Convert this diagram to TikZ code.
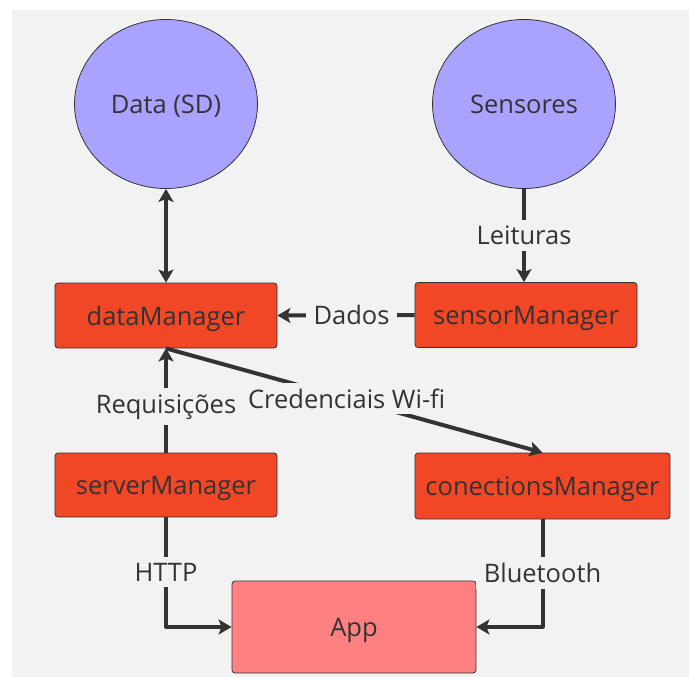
\documentclass[tikz,border=0pt]{standalone}
\usepackage{fontspec}
\setmainfont{Open Sans}
\usetikzlibrary{arrows.meta,shapes.geometric}
\definecolor{bg}{HTML}{F2F2F2}
\definecolor{ink}{HTML}{333333}
\definecolor{violet}{HTML}{A9A3FF}
\definecolor{mred}{HTML}{F24726}
\definecolor{apppink}{HTML}{FF8080}
\newcommand{\dfont}{\fontsize{25.5}{30}\selectfont}
\tikzset{
  boxtext/.style={text=ink, font=\dfont, inner sep=0pt, text height=22pt, text depth=3pt},
  circ/.style={ellipse, draw=ink, line width=0.8pt, fill=violet, minimum width=183pt, minimum height=169pt, boxtext},
  mgr/.style={rectangle, rounded corners=3pt, draw=ink, line width=0.8pt, fill=mred, minimum width=222pt, minimum height=65pt, boxtext},
  appbox/.style={rectangle, rounded corners=3pt, draw=ink, line width=0.8pt, fill=apppink, minimum width=244pt, minimum height=92pt, boxtext},
  conn/.style={draw=ink, line width=4pt, line join=round, -{Stealth[length=13pt,width=15pt,inset=3pt]}},
  lbl/.style={fill=bg, text=ink, font=\dfont, inner xsep=8pt, inner ysep=6pt}
}
\begin{document}
\begin{tikzpicture}[x=1pt,y=-1pt]
\useasboundingbox (0,0) rectangle (689,677);
\fill[bg] (12,10) rectangle (689,677);

\node[circ] (sd) at (166,104) {Data (SD)};
\node[circ] (sens) at (524,104) {Sensores};
\node[mgr] (dm) at (166,315.5) {dataManager};
\node[mgr] (sm) at (526,315) {sensorManager};
\node[mgr, minimum height=64pt] (srv) at (166,485) {serverManager};
\node[mgr, minimum width=255pt, minimum height=66pt] (cm) at (542.5,486) {conectionsManager};
\node[appbox] (app) at (354,627) {App};

\draw[conn, {Stealth[length=13pt,width=15pt,inset=3pt]}-{Stealth[length=13pt,width=15pt,inset=3pt]}] (sd) -- (dm);
\draw[conn] (sens.south) -- node[lbl]{Leituras} (sens.south |- sm.north);
\draw[conn] (sm.west) -- node[lbl, pos=0.46]{Dados} (dm.east);
\draw[conn] (srv.north) -- node[lbl, pos=0.44]{Requisições} (dm.south);
\draw[conn] (dm.south) -- node[lbl, pos=0.48]{Credenciais Wi-fi} (cm.north);
\draw[conn] (srv.south) -- node[lbl]{HTTP} (srv.south |- app.west) -- (app.west);
\draw[conn] (cm.south) -- node[lbl]{Bluetooth} (cm.south |- app.east) -- (app.east);
\end{tikzpicture}
\end{document}
